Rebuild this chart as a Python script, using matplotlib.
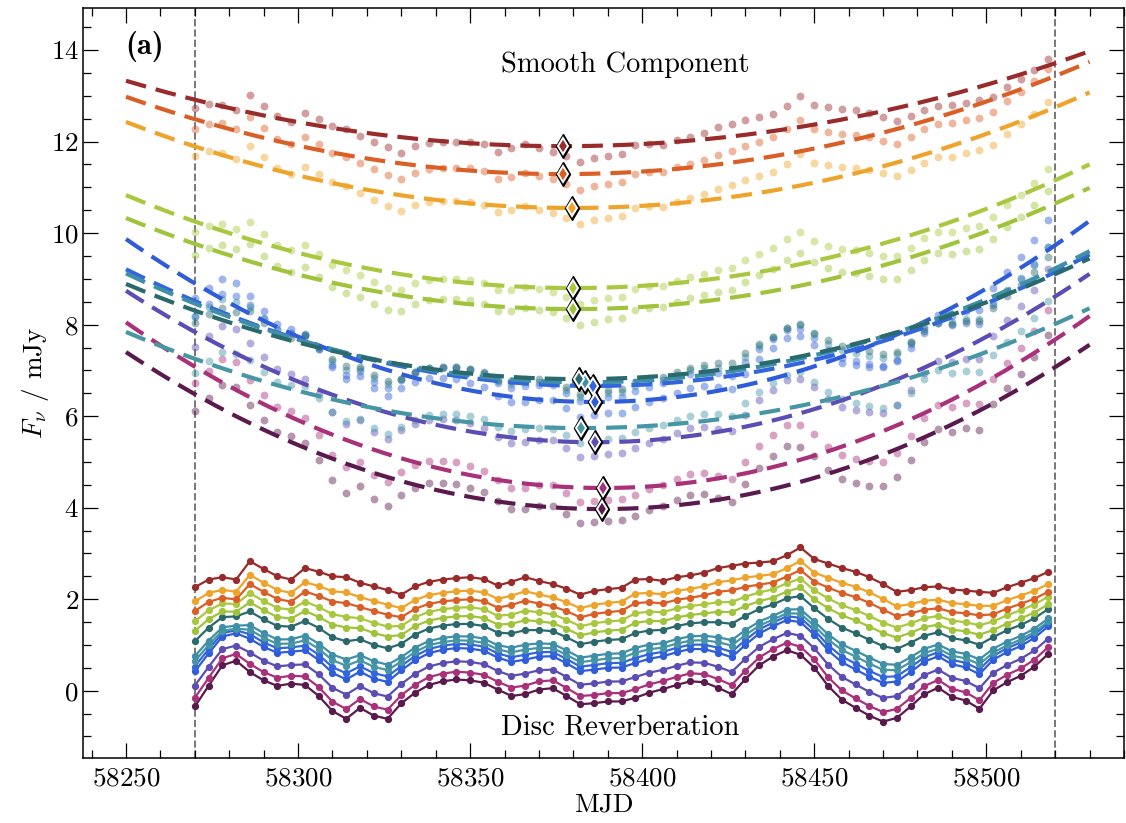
import numpy as np
import matplotlib
matplotlib.use("Agg")
import matplotlib.pyplot as plt
from matplotlib.ticker import MultipleLocator

plt.rcParams["font.family"] = "cmr10"
plt.rcParams["mathtext.fontset"] = "cm"
plt.rcParams["axes.formatter.use_mathtext"] = True
plt.rcParams["font.size"] = 19.5

# bands, ordered by smooth-component flux (top to bottom)
colours = ["#9a2b2b", "#da5f27", "#eea42a", "#a9c83f", "#9fc43c", "#2f5cd8",
           "#3366dd", "#3f8fa8", "#2b6a6c", "#5b4db3", "#a8317a", "#4696a6", "#5a1a4d"]

# smooth component: quadratic with its minimum (MJD, flux) and flux at MJD 58250
vertex_mjd = [58377.0, 58377.0, 58379.7, 58380.0, 58380.0, 58386.3, 58385.8,
              58383.5, 58381.7, 58386.3, 58388.7, 58382.3, 58388.4]
vertex_flux = [11.90, 11.29, 10.55, 8.80, 8.34, 6.31, 6.66, 6.74, 6.81, 5.43, 4.43, 5.74, 3.97]
start_flux = [13.33, 12.98, 12.43, 10.83, 10.33, 9.87, 9.21, 9.12, 8.89, 8.74, 8.05, 7.84, 7.40]

# disc reverberation: mean level and how far each band follows the UV-like curve
disc_level = [2.45, 1.95, 2.15, 1.75, 1.55, 0.75, 0.85, 1.05, 1.35, 0.45, 0.20, 0.95, 0.02]
uv_weight = [0.0, 0.1, 0.05, 0.25, 0.3, 0.8, 0.75, 0.6, 0.45, 0.85, 0.95, 0.65, 1.0]

mjd_obs = [58270, 58274, 58278, 58282, 58286, 58290, 58294, 58298, 58302, 58306,
           58310, 58314, 58318, 58322, 58326, 58330, 58334, 58338, 58342, 58346,
           58350, 58354, 58358, 58362, 58366, 58370, 58374, 58378, 58382, 58386,
           58390, 58394, 58398, 58402, 58406, 58410, 58414, 58418, 58422, 58426,
           58430, 58434, 58438, 58442, 58446, 58450, 58454, 58458, 58462, 58466,
           58470, 58474, 58478, 58482, 58486, 58490, 58494, 58498, 58502, 58506,
           58510, 58514, 58518]

# reddest band disc light curve
disc_red = [2.28, 2.45, 2.50, 2.45, 2.85, 2.68, 2.52, 2.45, 2.70, 2.62,
            2.52, 2.50, 2.38, 2.30, 2.22, 2.12, 2.30, 2.40, 2.45, 2.48,
            2.50, 2.46, 2.32, 2.40, 2.50, 2.42, 2.35, 2.25, 2.12, 2.20,
            2.24, 2.27, 2.45, 2.46, 2.42, 2.50, 2.54, 2.60, 2.70, 2.75,
            2.80, 2.82, 2.85, 2.98, 3.15, 2.90, 2.80, 2.70, 2.62, 2.50,
            2.35, 2.18, 2.22, 2.28, 2.30, 2.23, 2.21, 2.18, 2.16, 2.28,
            2.38, 2.48, 2.62]

# bluest band disc light curve
disc_uv = [-0.35, 0.10, 0.55, 0.65, 0.40, 0.22, 0.10, 0.15, 0.12, -0.12,
           -0.45, -0.62, -0.38, -0.55, -0.62, -0.28, -0.05, 0.12, 0.20, 0.24,
           0.22, 0.17, 0.02, -0.12, -0.08, 0.02, 0.05, -0.12, -0.30, -0.28,
           -0.24, -0.24, -0.16, -0.05, 0.03, 0.12, 0.20, 0.18, 0.06, -0.08,
           0.25, 0.55, 0.74, 0.88, 0.78, 0.50, 0.10, -0.20, -0.38, -0.55,
           -0.68, -0.60, -0.35, -0.08, 0.06, -0.14, -0.22, -0.40, 0.00, 0.18,
           0.32, 0.52, 0.80]

t = np.array(mjd_obs, dtype=float)
red = np.array(disc_red)
uv = np.array(disc_uv)
t_model = np.linspace(58250, 58530, 300)


def smooth(i, x):
    a = (start_flux[i] - vertex_flux[i]) / (58250 - vertex_mjd[i]) ** 2
    return vertex_flux[i] + a * (x - vertex_mjd[i]) ** 2


fig = plt.figure(figsize=(11.26, 8.23), dpi=100)
ax = fig.add_axes([0.0737, 0.079, 0.9245, 0.9113])

n = len(colours)
disc = []
for i in range(n):
    w = uv_weight[i]
    disc.append(disc_level[i] + (1 - w) * (red - red.mean()) + w * (uv - uv.mean()))

# smooth component: data points, quadratic model, minimum
for i in range(n):
    ax.scatter(t, smooth(i, t) + disc[i] - disc_level[i], s=32, color=colours[i],
               alpha=0.45, linewidths=0, zorder=1)
for i in range(n):
    ax.plot(t_model, smooth(i, t_model), color=colours[i], lw=3, dashes=(5, 2.4), zorder=2)
for i in range(n):
    ax.plot(vertex_mjd[i], vertex_flux[i], marker="d", ms=12.5, mfc="black", mec="black", zorder=5)
    ax.plot(vertex_mjd[i], vertex_flux[i], marker="d", ms=8, mfc=colours[i], mec="white",
            mew=1.4, zorder=6)

# disc reverberation, lowest band drawn first
for i in np.argsort(disc_level):
    ax.plot(t, disc[i], "-o", color=colours[i], lw=1.6, ms=4.2, zorder=3)

ax.axvline(58270, color="#777777", ls="--", lw=1.4, zorder=0)
ax.axvline(58520, color="#777777", ls="--", lw=1.4, zorder=0)

ax.text(58255.5, 14.07, "(a)", family="cmb10", fontsize=22, ha="center", va="center")
ax.text(58395, 13.67, "Smooth Component", fontsize=20.5, ha="center", va="center")
ax.text(58393.5, -0.8, "Disc Reverberation", fontsize=20.5, ha="center", va="center")

ax.set_xlim(58237.5, 58540)
ax.set_ylim(-1.47, 14.92)
ax.xaxis.set_major_locator(MultipleLocator(50))
ax.xaxis.set_minor_locator(MultipleLocator(10))
ax.yaxis.set_major_locator(MultipleLocator(2))
ax.yaxis.set_minor_locator(MultipleLocator(0.5))
ax.tick_params(which="both", direction="in", top=True, right=True, width=0.9)
ax.tick_params(which="major", length=11)
ax.tick_params(which="minor", length=6)
ax.tick_params(axis="x", pad=6)
ax.tick_params(axis="y", pad=3)
for s in ax.spines.values():
    s.set_linewidth(1.1)

ax.set_xlabel("MJD", labelpad=2)
ax.set_ylabel(r"$F_\nu$ / mJy", labelpad=0)

fig.savefig("out.png", dpi=100)
